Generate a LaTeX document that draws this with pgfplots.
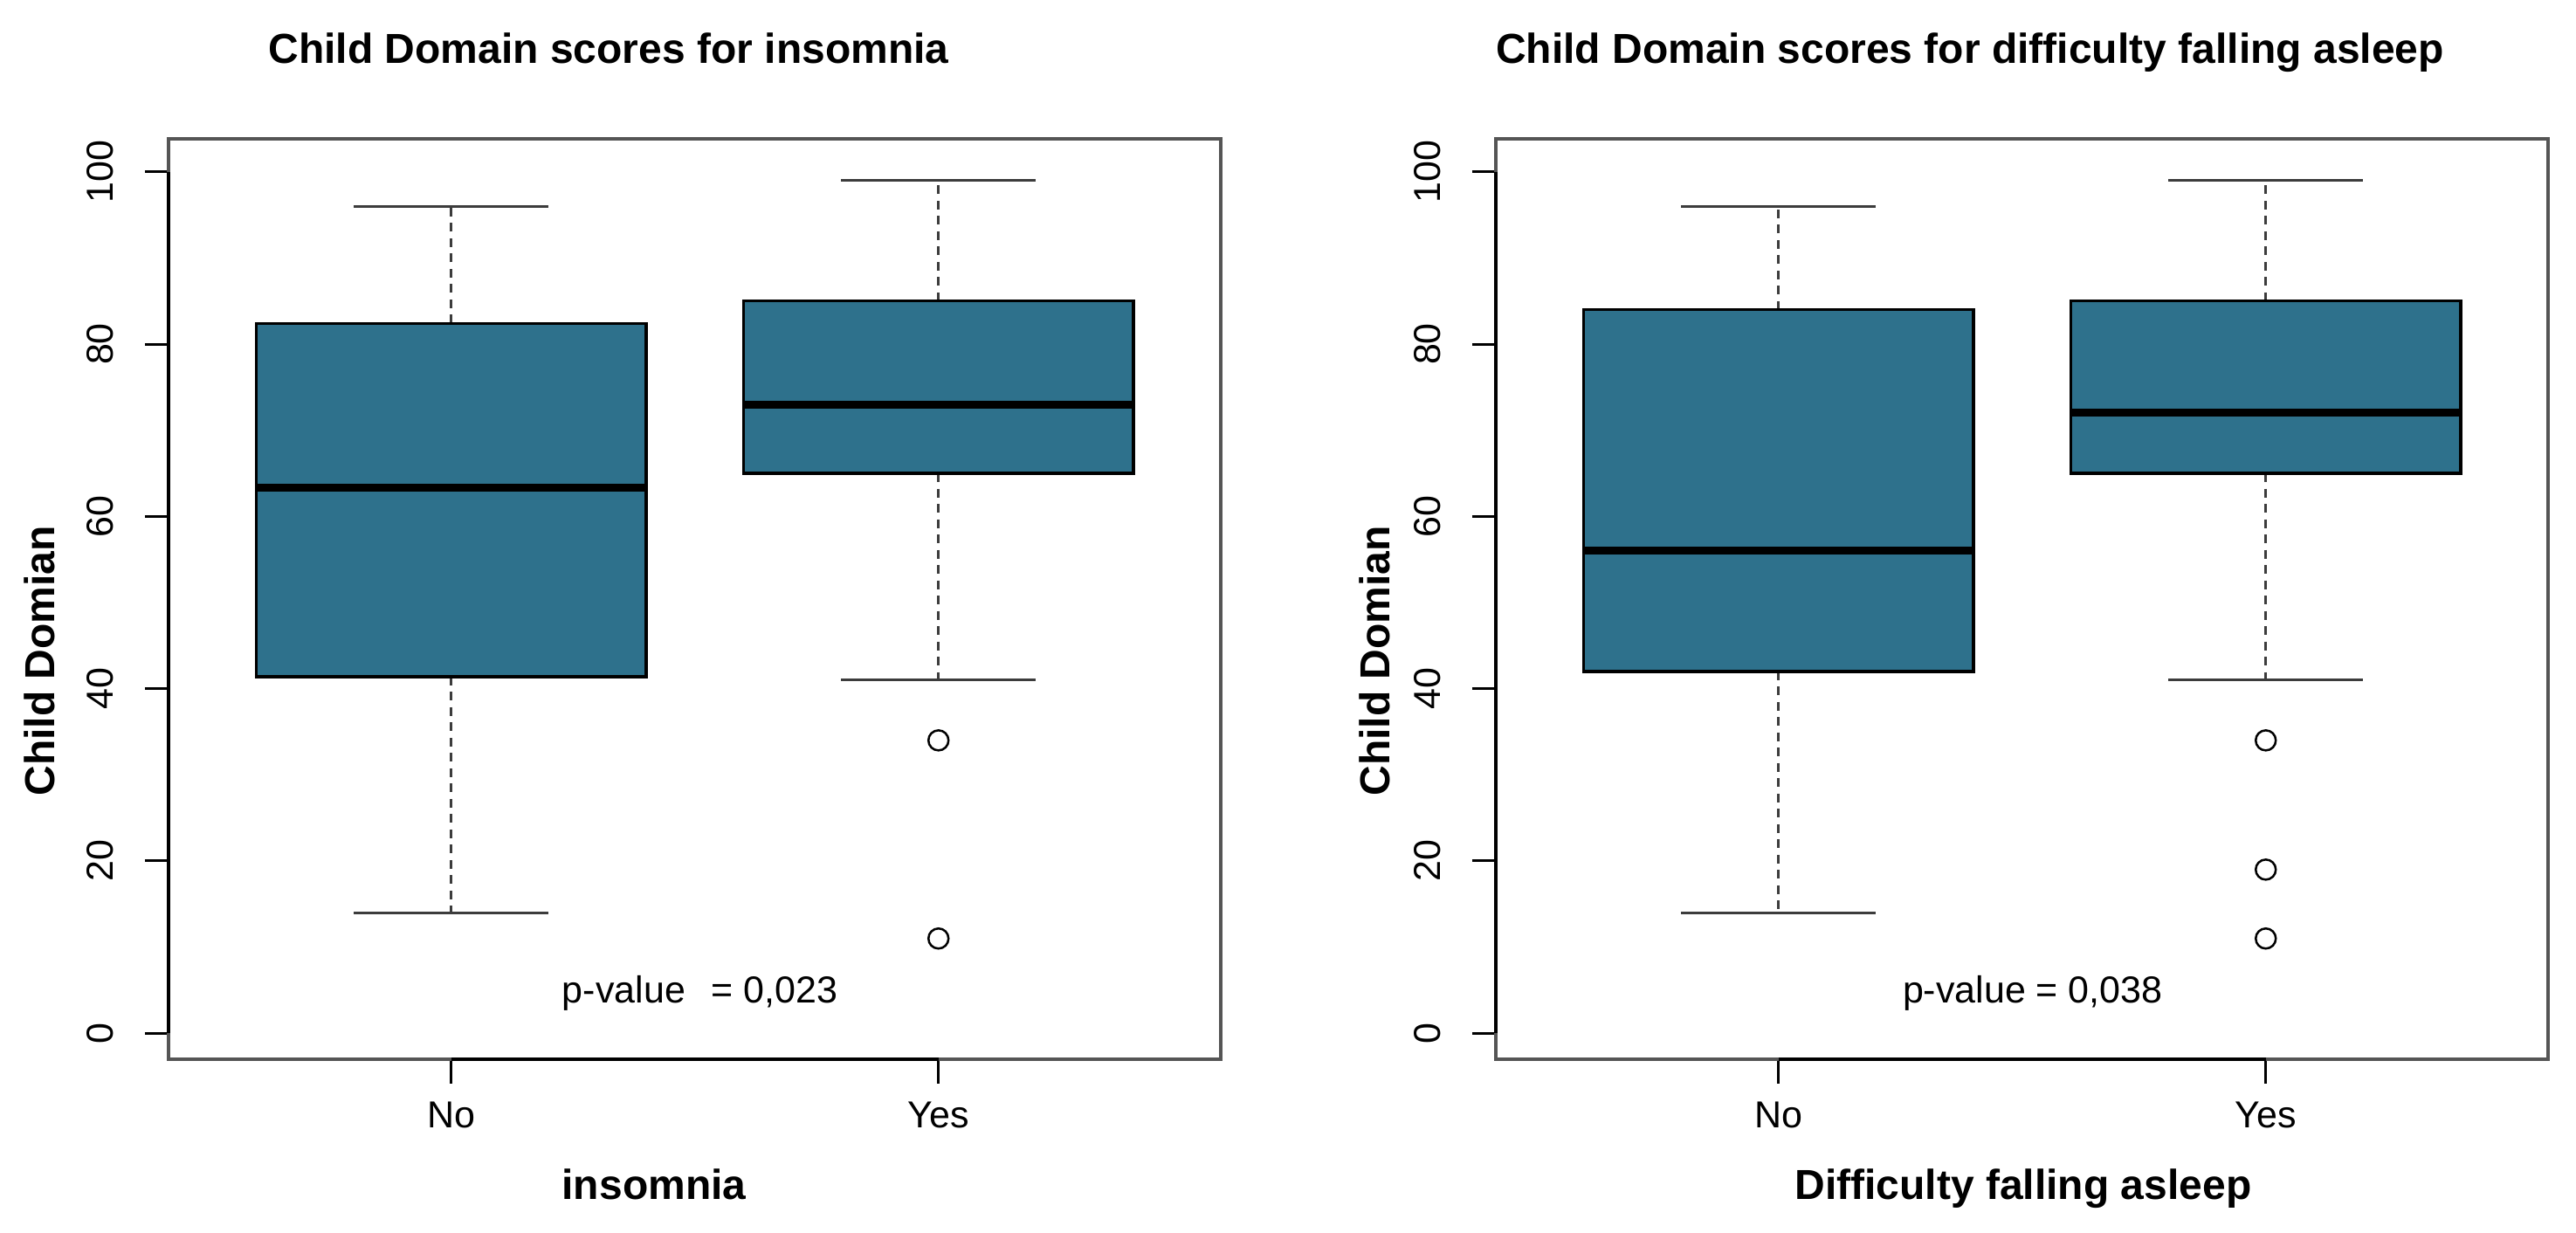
\documentclass[border=0pt]{standalone}
\usepackage{pgfplots}
\pgfplotsset{compat=1.18}
\usepgfplotslibrary{statistics}
\usepackage{fontspec}
\setmainfont{Liberation Sans}

\definecolor{boxc}{RGB}{46,113,140}
\definecolor{framec}{RGB}{85,85,85}
\definecolor{whisk}{RGB}{60,60,60}

\newcommand{\tickfont}{\fontsize{8.6}{10}\selectfont}
\newcommand{\labfont}{\fontsize{9.6}{11}\selectfont\bfseries}

\pgfplotsset{
  rbox/.style={
    scale only axis, width=241pt, height=210.8pt,
    xmin=0.42, xmax=2.58, ymin=-3.04, ymax=103.8,
    xtick={1,2}, xticklabels={No,Yes},
    ytick={0,20,...,100},
    tick align=outside, tick pos=left, major tick length=5.5pt,
    tick style={black, line width=0.6pt},
    axis line style={draw=framec, line width=0.8pt},
    /pgf/number format/assume math mode=true,
    ticklabel style={font=\tickfont},
    yticklabel style={rotate=90, anchor=south},
    yticklabel shift=3.7pt, xticklabel shift=0.7pt,
    clip=false,
    boxplot/draw direction=y,
    boxplot/box extend=0.8,
    boxplot/whisker extend=0,
    boxplot/every box/.style={draw=black, line width=0.7pt, fill=boxc},
    boxplot/every median/.style={draw=black, line width=1.8pt},
    boxplot/every whisker/.style={draw=whisk, line width=0.6pt, dash pattern=on 2pt off 1.5pt},
  },
  cap/.style={draw=whisk, line width=0.6pt, forget plot},
  outl/.style={mark=o, mark size=2.3pt, mark options={draw=black, solid, line width=0.5pt}},
}

\begin{document}
\begin{tikzpicture}
\useasboundingbox (0,0) rectangle (590pt,282.4pt);

% left panel: insomnia
\begin{axis}[rbox, at={(38.66pt,39.74pt)}, anchor=south west]
  \addplot[boxplot prepared={lower whisker=14, lower quartile=41.4, median=63.3,
    upper quartile=82.4, upper whisker=96, draw position=1}] coordinates {};
  \addplot[boxplot prepared={lower whisker=41, lower quartile=65, median=73,
    upper quartile=85, upper whisker=99, draw position=2}, outl]
    table[row sep=\\, y index=0] {34\\ 11\\};
  \addplot[cap] coordinates {(0.8,96) (1.2,96)};
  \addplot[cap] coordinates {(0.8,14) (1.2,14)};
  \addplot[cap] coordinates {(1.8,99) (2.2,99)};
  \addplot[cap] coordinates {(1.8,41) (2.2,41)};
  \draw[black, line width=0.8pt] (axis cs:0.42,0) -- (axis cs:0.42,100);
  \draw[black, line width=0.8pt] (axis cs:1,-3.04) -- (axis cs:2,-3.04);
  \node[anchor=base west, inner sep=0, font=\tickfont] at (axis cs:1.226,3.5) {p-value\hspace{5.9pt}= 0,023};
\end{axis}

% right panel: difficulty falling asleep
\begin{axis}[rbox, at={(342.66pt,39.74pt)}, anchor=south west]
  \addplot[boxplot prepared={lower whisker=14, lower quartile=42, median=56,
    upper quartile=84, upper whisker=96, draw position=1}] coordinates {};
  \addplot[boxplot prepared={lower whisker=41, lower quartile=65, median=72,
    upper quartile=85, upper whisker=99, draw position=2}, outl]
    table[row sep=\\, y index=0] {34\\ 19\\ 11\\};
  \addplot[cap] coordinates {(0.8,96) (1.2,96)};
  \addplot[cap] coordinates {(0.8,14) (1.2,14)};
  \addplot[cap] coordinates {(1.8,99) (2.2,99)};
  \addplot[cap] coordinates {(1.8,41) (2.2,41)};
  \draw[black, line width=0.8pt] (axis cs:0.42,0) -- (axis cs:0.42,100);
  \draw[black, line width=0.8pt] (axis cs:1,-3.04) -- (axis cs:2,-3.04);
  \node[anchor=base west, inner sep=0, font=\tickfont] at (axis cs:1.253,3.5) {p-value = 0,038};
\end{axis}

% titles and axis labels
\node[anchor=base, inner sep=0, font=\labfont] at (139.4pt,267.8pt) {Child Domain scores for insomnia};
\node[anchor=base, inner sep=0, font=\labfont] at (451.2pt,267.8pt) {Child Domain scores for difficulty falling asleep};
\node[anchor=base, inner sep=0, font=\labfont] at (149.8pt,7.6pt) {insomnia};
\node[anchor=base, inner sep=0, font=\labfont] at (463.4pt,7.6pt) {Difficulty falling asleep};
\node[rotate=90, inner sep=0, font=\labfont] at (9pt,131pt) {Child Domian};
\node[rotate=90, inner sep=0, font=\labfont] at (314.8pt,131pt) {Child Domian};
\end{tikzpicture}
\end{document}
